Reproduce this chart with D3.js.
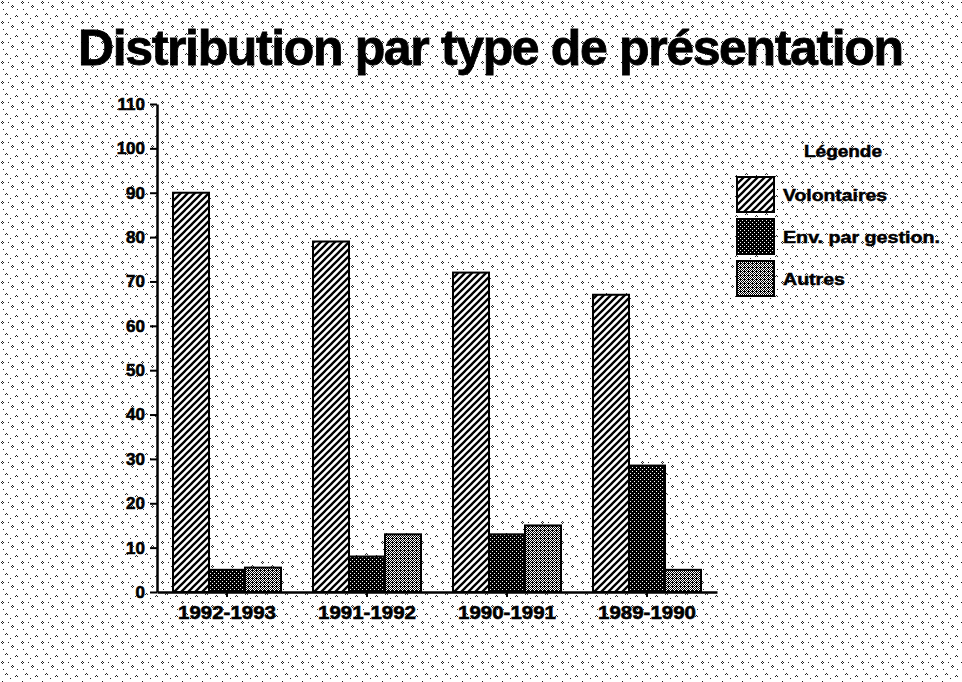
<!DOCTYPE html>
<html>
<head>
<meta charset="utf-8">
<script src="https://cdn.jsdelivr.net/npm/d3@7"></script>
<style>
  body { margin: 0; background: #fff; }
  text { font-family: "Liberation Sans", Arial, Helvetica, sans-serif; font-weight: bold; fill: #000; }
</style>
</head>
<body>
<div id="canvas"></div>
<script>
// data
const categories = ["1992-1993", "1991-1992", "1990-1991", "1989-1990"];
const seriesNames = ["Volontaires", "Env. par gestion.", "Autres"];
const volontaires = [90, 79, 72, 67];
const envGestion = [5, 8, 13, 28.5];
const autres = [5.5, 13, 15, 5];
const yTicks = [0, 10, 20, 30, 40, 50, 60, 70, 80, 90, 100, 110];

const width = 962;
const height = 682;

const svg = d3.select("#canvas").append("svg")
  .attr("width", width)
  .attr("height", height);

const defs = svg.append("defs");

// scanned paper speckle
const bg = defs.append("pattern").attr("id", "paper")
  .attr("patternUnits", "userSpaceOnUse").attr("width", 20).attr("height", 20);
const specks = [[2,1],[1,2],[3,2],[2,3],[12,5],[11,6],[13,6],[12,7],[6,13],[5,14],[7,14],[16,15],[17,16],[15,16],[8,2],[17,9],[3,9],[10,18]];
bg.selectAll("rect").data(specks).enter().append("rect")
  .attr("x", d => d[0]).attr("y", d => d[1])
  .attr("width", 1).attr("height", 1).attr("fill", "#222");

// hatch for Volontaires
const hatch = defs.append("pattern").attr("id", "hatch")
  .attr("patternUnits", "userSpaceOnUse").attr("width", 7).attr("height", 7);
hatch.append("rect").attr("width", 7).attr("height", 7).attr("fill", "#fff");
hatch.append("path")
  .attr("d", "M-1,1 L1,-1 M0,7 L7,0 M6,8 L8,6")
  .attr("stroke", "#000").attr("stroke-width", 2.3);

// dense dark dots for Env. par gestion
const dark = defs.append("pattern").attr("id", "dark")
  .attr("patternUnits", "userSpaceOnUse").attr("width", 4).attr("height", 4);
dark.append("rect").attr("width", 4).attr("height", 4).attr("fill", "#000");
dark.append("rect").attr("x", 1).attr("y", 1).attr("width", 1).attr("height", 1).attr("fill", "#fff");
dark.append("rect").attr("x", 3).attr("y", 3).attr("width", 1).attr("height", 1).attr("fill", "#fff");

// grey dither for Autres
const grey = defs.append("pattern").attr("id", "grey")
  .attr("patternUnits", "userSpaceOnUse").attr("width", 4).attr("height", 4);
grey.append("rect").attr("width", 4).attr("height", 4).attr("fill", "#fff");
[[0,0],[2,0],[1,1],[3,1],[0,2],[2,2],[1,3],[3,3],[3,2]].forEach(p => {
  grey.append("rect").attr("x", p[0]).attr("y", p[1]).attr("width", 1).attr("height", 1).attr("fill", "#000");
});

const fills = ["url(#hatch)", "url(#dark)", "url(#grey)"];

svg.append("rect").attr("width", width).attr("height", height).attr("fill", "#fff");
svg.append("rect").attr("width", width).attr("height", height).attr("fill", "url(#paper)");

// title
svg.append("text")
  .attr("x", 78).attr("y", 65)
  .attr("font-size", 50)
  .attr("stroke", "#000").attr("stroke-width", 0.8)
  .attr("textLength", 826).attr("lengthAdjust", "spacing")
  .text("Distribution par type de présentation");

// scales
const x0 = d3.scaleBand().domain(categories).range([157, 717]);
const x1 = d3.scaleBand().domain(seriesNames).range([16, 124]);
const y = d3.scaleLinear().domain([0, 110]).range([592, 104]);

const table = categories.map((c, i) => ({
  cat: c,
  values: [volontaires[i], envGestion[i], autres[i]].map((v, j) => ({ key: seriesNames[j], v: v, fill: fills[j] }))
}));

const groups = svg.selectAll("g.group").data(table).enter().append("g")
  .attr("class", "group")
  .attr("transform", d => `translate(${x0(d.cat)},0)`);

groups.selectAll("rect").data(d => d.values).enter().append("rect")
  .attr("x", d => x1(d.key))
  .attr("y", d => y(d.v))
  .attr("width", x1.bandwidth())
  .attr("height", d => y(0) - y(d.v))
  .attr("fill", d => d.fill)
  .attr("stroke", "#000")
  .attr("stroke-width", 2);

// y axis
const yAxis = svg.append("g")
  .attr("transform", "translate(157,0)")
  .call(d3.axisLeft(y).tickValues(yTicks).tickSize(7).tickPadding(5).tickSizeOuter(0));
yAxis.select(".domain").attr("stroke", "#000").attr("stroke-width", 2.5);
yAxis.selectAll(".tick line").attr("stroke", "#000").attr("stroke-width", 2);
yAxis.selectAll(".tick text")
  .attr("font-size", 17).attr("font-family", "Liberation Sans, Arial, sans-serif")
  .attr("font-weight", "bold").attr("fill", "#000")
  .attr("stroke", "#000").attr("stroke-width", 0.6);

// x axis
const xAxis = svg.append("g")
  .attr("transform", `translate(0,${y(0)})`)
  .call(d3.axisBottom(x0).tickSize(5).tickPadding(9).tickSizeOuter(0));
xAxis.select(".domain").attr("stroke", "#000").attr("stroke-width", 2.5);
xAxis.selectAll(".tick line").attr("stroke", "#000").attr("stroke-width", 2);
xAxis.selectAll(".tick text")
  .attr("font-size", 19).attr("font-family", "Liberation Sans, Arial, sans-serif")
  .attr("font-weight", "bold").attr("fill", "#000")
  .attr("stroke", "#000").attr("stroke-width", 0.6)
  .attr("textLength", 98).attr("lengthAdjust", "spacingAndGlyphs");

// legend
const legend = svg.append("g");
legend.append("text")
  .attr("x", 843).attr("y", 157)
  .attr("text-anchor", "middle")
  .attr("font-size", 16)
  .attr("stroke", "#000").attr("stroke-width", 0.5)
  .attr("textLength", 78).attr("lengthAdjust", "spacingAndGlyphs")
  .text("Légende");

const legendWidths = [104, 157, 62];
const items = legend.selectAll("g.item").data(seriesNames).enter().append("g")
  .attr("class", "item")
  .attr("transform", (d, i) => `translate(737,${177 + i * 42})`);
items.append("rect")
  .attr("width", 37).attr("height", 35)
  .attr("fill", (d, i) => fills[i])
  .attr("stroke", "#000").attr("stroke-width", 2);
items.append("text")
  .attr("x", 46).attr("y", 24)
  .attr("font-size", 17)
  .attr("stroke", "#000").attr("stroke-width", 0.5)
  .attr("textLength", (d, i) => legendWidths[i]).attr("lengthAdjust", "spacingAndGlyphs")
  .text(d => d);
</script>
</body>
</html>
